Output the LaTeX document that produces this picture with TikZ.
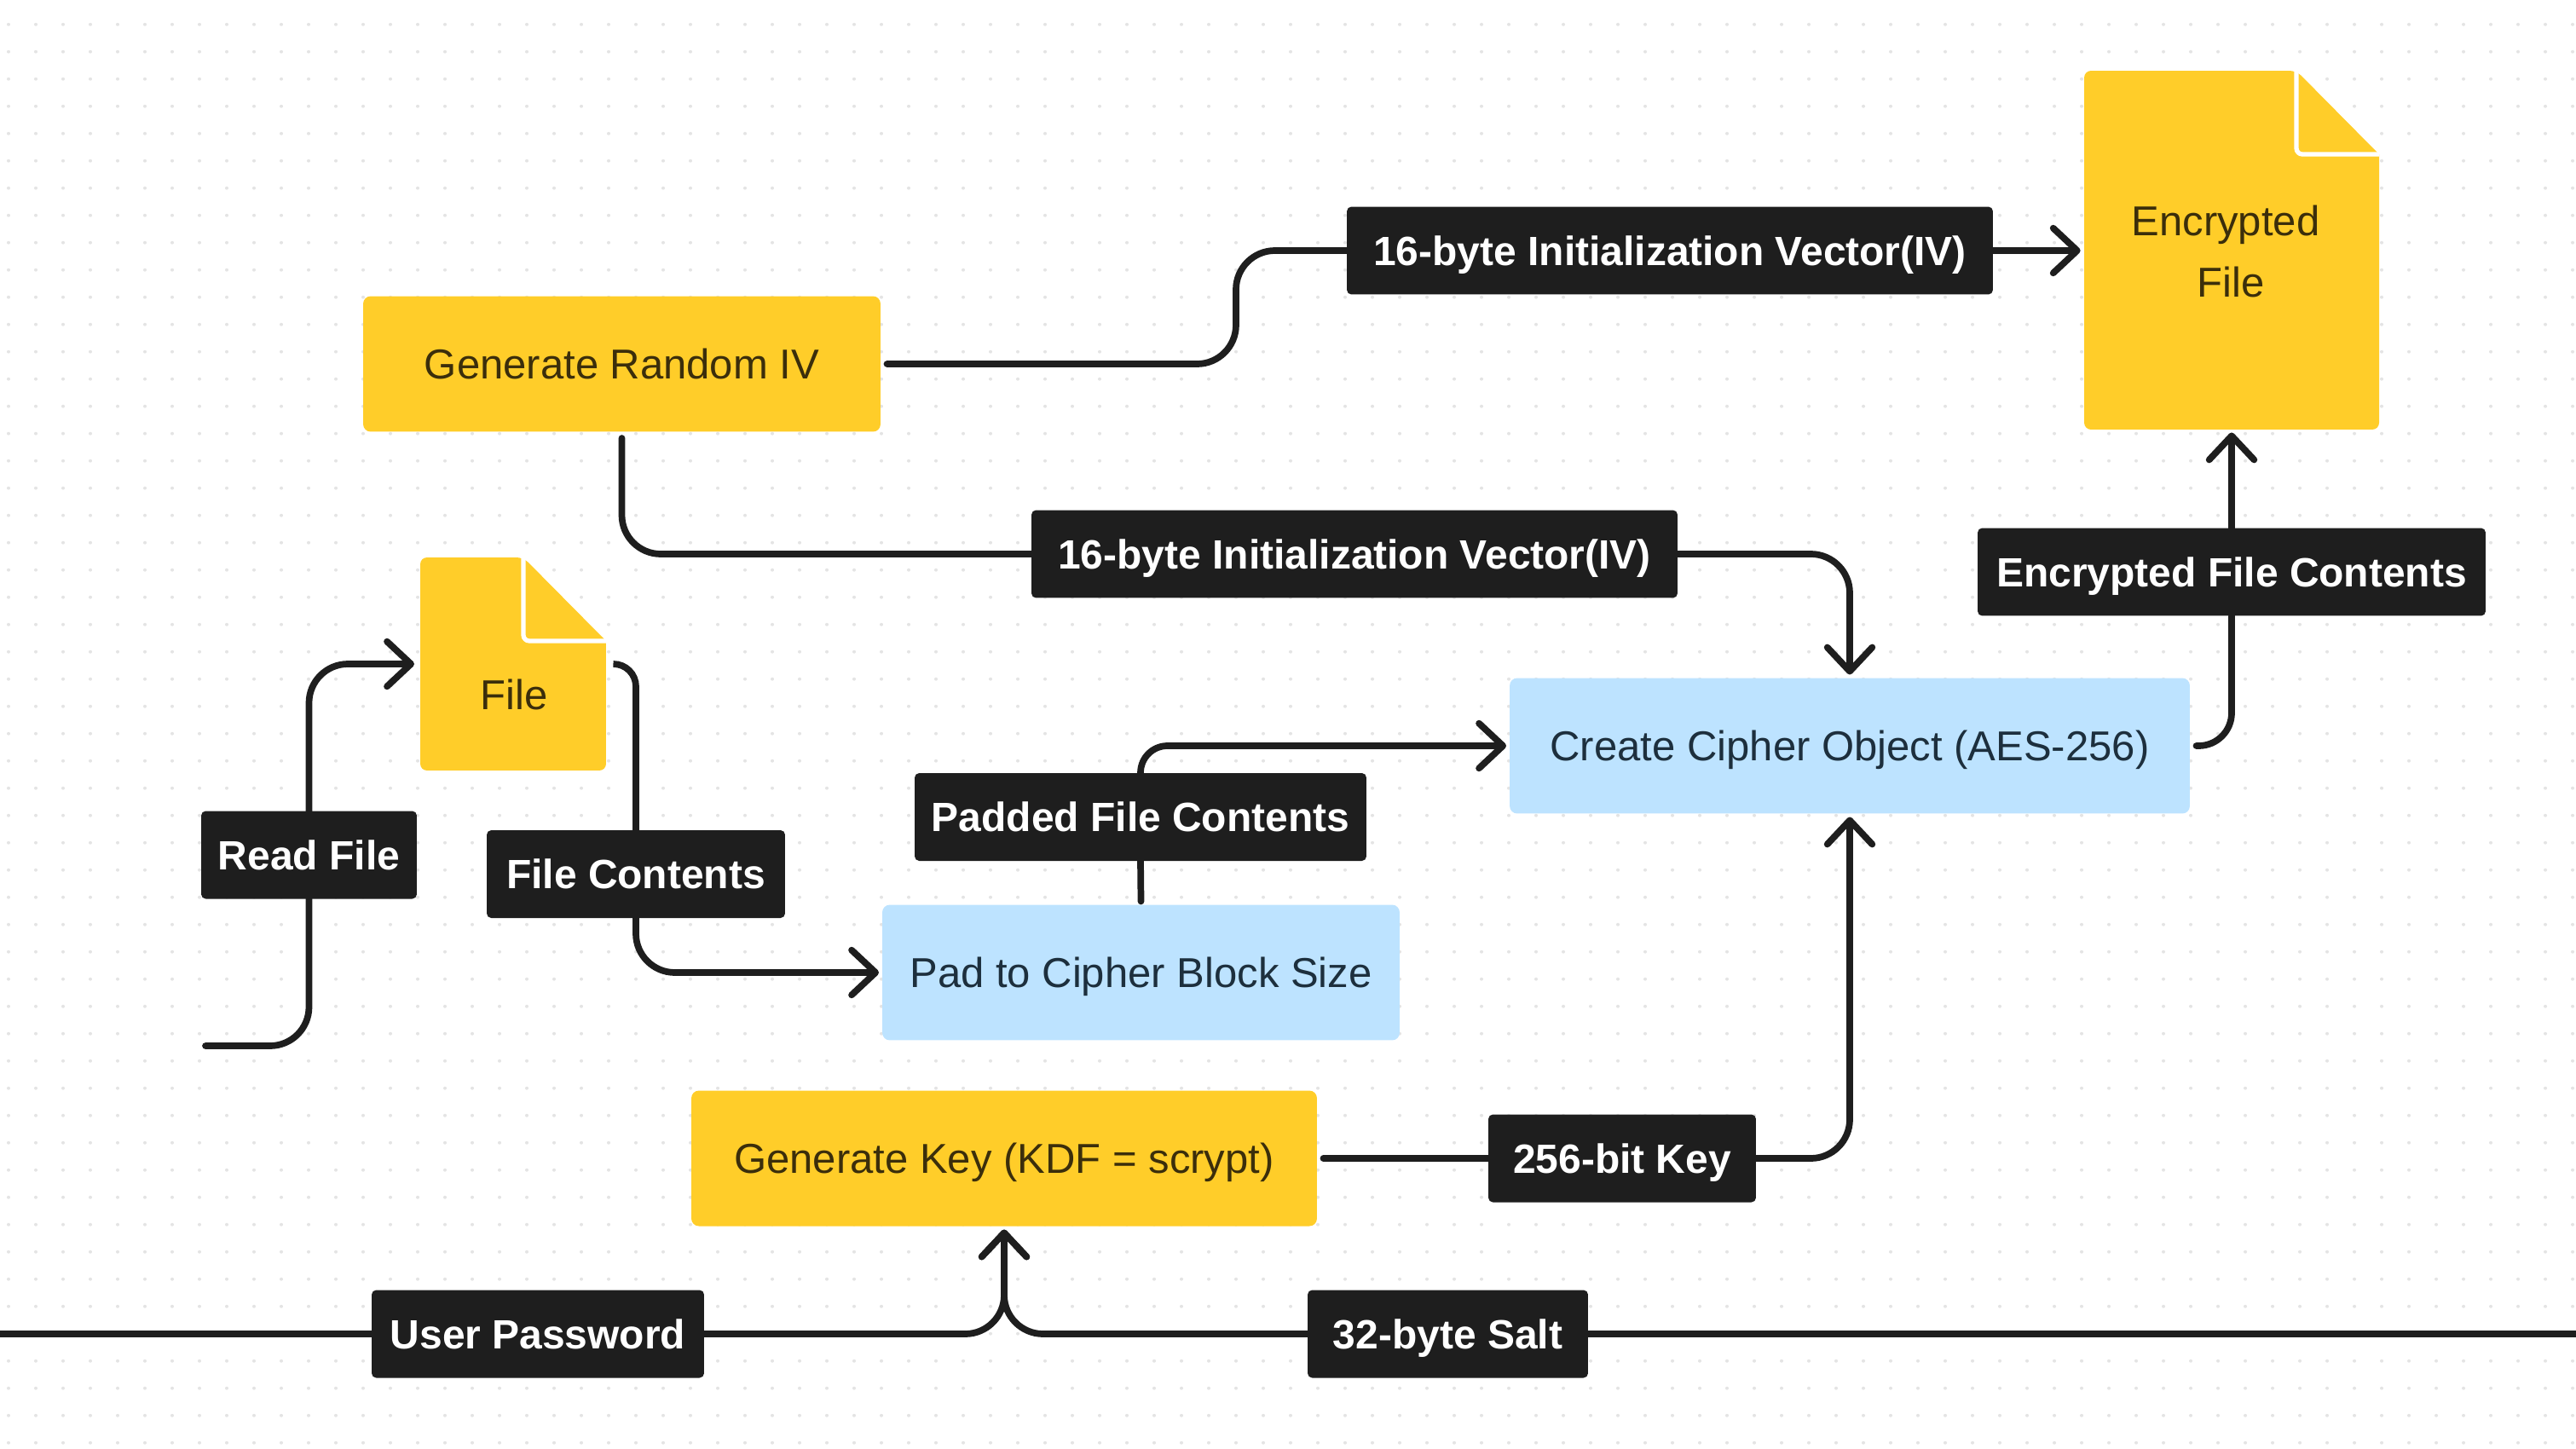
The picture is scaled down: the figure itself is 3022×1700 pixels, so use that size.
\documentclass[tikz,border=0pt]{standalone}
\usepackage{fontspec}
\setmainfont{Liberation Sans}
\usetikzlibrary{arrows.meta,positioning}

\definecolor{docyellow}{HTML}{FFCD29}
\definecolor{lightblue}{HTML}{BDE3FF}
\definecolor{tagblack}{HTML}{1E1E1E}
\definecolor{yellowtext}{HTML}{3B2E0B}
\definecolor{bluetext}{HTML}{1D2F3D}
\definecolor{griddot}{HTML}{E4E4E4}

\newcommand{\docsheet}[1]{%
  \fill[docyellow, rounded corners=4.5pt] (#1.south west) -- (#1.north west) -- ([xshift=-1.94cm]#1.north east)
    [sharp corners] -- ([yshift=-1.96cm]#1.north east) [rounded corners=4.5pt] -- (#1.south east) -- cycle;
  \draw[white, line width=3pt, rounded corners=4pt] ([xshift=-1.94cm]#1.north east)
    -- ([xshift=-1.94cm,yshift=-1.96cm]#1.north east) -- ([yshift=-1.96cm]#1.north east);
}

\begin{document}
\begin{tikzpicture}[
        x=0.02cm, y=-0.02cm,
        >={Straight Barb[length=16pt, width=30pt, round]},
        boxtext/.style={font=\fontsize{27.9}{41}\selectfont, align=center},
        flatbox/.style={boxtext, rounded corners=5pt, minimum height=3.18cm, outer sep=2.3pt, text height=20pt, text depth=0pt},
        yellowbox/.style={flatbox, fill=docyellow, text=yellowtext},
        bluebox/.style={flatbox, fill=lightblue, text=bluetext},
        docbox/.style={minimum width=6.92cm, inner sep=0pt, outer sep=0pt},
        doctext/.style={boxtext, text=yellowtext},
        tag/.style={fill=tagblack, text=white, font=\fontsize{27.3}{32}\selectfont\bfseries, rounded corners=3pt, minimum height=2.06cm, inner sep=0pt, outer sep=0pt, text height=19.6pt, text depth=0pt},
        flow/.style={draw=tagblack, line width=4.4pt, line cap=round, rounded corners=26pt}
    ]
    \useasboundingbox (0,0) rectangle (3022,1700);

    % Dotted canvas
    \foreach \i in {0,...,94}
      \foreach \j in {0,...,52}
        \fill[griddot] (10+32*\i,28.7+32*\j) circle (2);

    % Nodes
    \node (geniv) [yellowbox, minimum width=12.14cm] at (729.5,427) {Generate Random IV};
    \node (pad) [bluebox, minimum width=12.14cm] at (1338.5,1141) {Pad to Cipher Block Size};
    \node (cipher) [bluebox, minimum width=15.96cm] at (2170,875) {Create Cipher Object (AES-256)};
    \node (genkey) [yellowbox, minimum width=14.68cm] at (1178,1359) {Generate Key (KDF = scrypt)};

    \node (encfile) [docbox, minimum height=8.42cm] at (2618,293.5) {};
    \docsheet{encfile}
    \node (enctext) [doctext] at (2617,295) {Encrypted\hspace*{6.8pt}\\File};
    \node (file) [docbox, minimum width=4.36cm, minimum height=5cm] at (602,779) {};
    \docsheet{file}
    \node (filetext) [doctext] at (603,815) {File};

    \node (ivtop) [tag, minimum width=15.16cm] at (1959,294) {16-byte Initialization Vector(IV)};
    \node (ivmid) [tag, minimum width=15.16cm] at (1589,650) {16-byte Initialization Vector(IV)};
    \node (enccontents) [tag, minimum width=11.92cm] at (2618,671) {Encrypted File Contents};
    \node (readfile) [tag, minimum width=5.06cm] at (362.5,1003) {Read File};
    \node (filecontents) [tag, minimum width=7cm] at (746,1025.5) {File Contents};
    \node (padded) [tag, minimum width=10.6cm] at (1338,958.5) {Padded File Contents};
    \node (keybits) [tag, minimum width=6.28cm] at (1903,1359) {256-bit Key};
    \node (user) [tag, minimum width=7.8cm] at (631,1565) {User Password};
    \node (salt) [tag, minimum width=6.58cm] at (1698.5,1565) {32-byte Salt};

    \coordinate (readstart) at (241,1227);
    \coordinate (leftedge) at (-10,1565);
    \coordinate (rightedge) at (3032,1565);

    % Edges
    \draw[flow, shorten <=2pt] (geniv.east) -- ++(413,0) |- (ivtop.west);
    \draw[flow, ->, shorten >=2.5pt] (ivtop.east) -- (ivtop.east -| encfile.west);
    \draw[flow, shorten <=2pt] (geniv.south) |- (ivmid.west);
    \draw[flow, ->] (ivmid.east) -| (cipher.north);
    \draw[flow] (readstart) -| (readfile.south);
    \draw[flow, ->, shorten >=4pt] (readfile.north) |- (file.west);
    \draw[flow, rounded corners=15pt, shorten <=5pt] (file.east) -| (filecontents.north);
    \draw[flow, ->] (filecontents.south) |- (pad.west);
    \draw[flow] (pad.north) -- (padded.south);
    \draw[flow, ->, rounded corners=18pt] (padded.north) |- (cipher.west);
    \draw[flow, rounded corners=22pt, shorten <=2pt] (cipher.east) -| (enccontents.south);
    \draw[flow, ->, shorten >=2pt] (enccontents.north) -- (encfile.south);
    \draw[flow, shorten <=2pt] (genkey.east) -- (keybits.west);
    \draw[flow, ->] (keybits.east) -| (cipher.south);
    \draw[flow] (leftedge) -- (user.west);
    \draw[flow, ->] (user.east) -| (genkey.south);
    \draw[flow] (rightedge) -- (salt.east);
    \draw[flow, ->] (salt.west) -| (genkey.south);

\end{tikzpicture}
\end{document}
